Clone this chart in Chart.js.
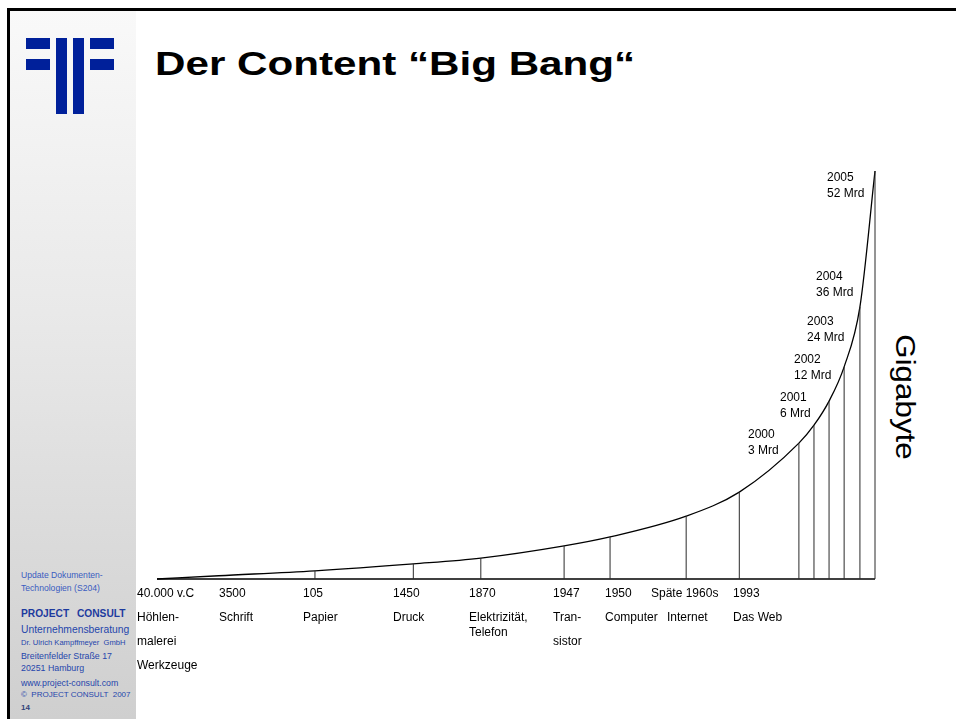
<!DOCTYPE html>
<html>
<head>
<meta charset="utf-8">
<script src="https://cdn.jsdelivr.net/npm/chart.js@4"></script>
<style>
  html, body { margin:0; padding:0; background:#fff; }
  body { width:956px; height:719px; position:relative; overflow:hidden; font-family:"Liberation Sans", Arial, sans-serif; }
  #frame { position:absolute; left:7px; top:8px; width:960px; height:720px; border-left:3px solid #000; border-top:3px solid #000; }
  #panel { position:absolute; left:10px; top:11px; width:126px; height:708px; background:linear-gradient(#f9f9f9, #e8e8e8 45%, #cfcfcf); }
  .logo { position:absolute; background:#00209a; }
  #chartWrap { position:absolute; left:0; top:0; width:956px; height:719px; }
  .t { position:absolute; white-space:pre; line-height:1; color:#000; }
  .p { position:absolute; white-space:pre; line-height:1; color:#2f4fb0; left:21px; }
</style>
</head>
<body>
<div id="frame"></div>
<div id="panel"></div>
<div class="logo" style="left:26px;top:38px;width:24px;height:11px"></div>
<div class="logo" style="left:26px;top:59px;width:24px;height:11px"></div>
<div class="logo" style="left:56px;top:38px;width:11px;height:76px"></div>
<div class="logo" style="left:73px;top:38px;width:11px;height:76px"></div>
<div class="logo" style="left:90px;top:38px;width:24px;height:11px"></div>
<div class="logo" style="left:90px;top:59px;width:24px;height:11px"></div>

<div class="t" id="title" style="left:155px;top:46px;font-size:34px;font-weight:bold;transform:scaleX(1.24);transform-origin:0 0">Der Content “Big Bang“</div>
<div class="t" id="unit" style="left:905px;top:397px;font-size:28px;transform:translate(-50%,-50%) rotate(90deg) scaleX(1.12)">Gigabyte</div>

<div class="p" style="top:571px;font-size:8.6px;color:#3a5cc0">Update Dokumenten-</div>
<div class="p" style="top:584px;font-size:8.6px;color:#3a5cc0">Technologien (S204)</div>
<div class="p" style="top:609px;font-size:10.2px;font-weight:bold;color:#1d3a9e;word-spacing:5px">PROJECT CONSULT</div>
<div class="p" style="top:625px;font-size:10.3px;color:#2546ac">Unternehmensberatung</div>
<div class="p" style="top:639px;font-size:7.6px;color:#2546ac">Dr. Ulrich Kampffmeyer  GmbH</div>
<div class="p" style="top:652px;font-size:8.8px;color:#2546ac">Breitenfelder Straße 17</div>
<div class="p" style="top:664px;font-size:8.8px;color:#2546ac">20251 Hamburg</div>
<div class="p" style="top:679px;font-size:8.8px;color:#2546ac">www.project-consult.com</div>
<div class="p" style="top:691px;font-size:8px;color:#2546ac">©  PROJECT CONSULT  2007</div>
<div class="p" style="top:704px;font-size:8px;font-weight:bold;color:#33427a">14</div>

<div id="chartWrap"><canvas id="c" width="956" height="719"></canvas></div>
<div id="labels"></div>

<script>
// ---- data ----
// timeline position (0–100 along the drawn axis) and relative data volume (0–100)
const milestoneNames = ['40.000 v.C', '3500', '105', '1450', '1870', '1947', '1950', 'Späte 1960s', '1993', '2000', '2001', '2002', '2003', '2004', '2005'];
const timelinePos    = [0, 8.6, 22.0, 35.7, 45.1, 56.7, 63.1, 73.7, 81.1, 89.4, 91.5, 93.6, 95.7, 97.9, 100];
const volume         = [0, 0.8, 2.0, 3.7, 5.1, 8.1, 10.3, 15.4, 21.3, 33.3, 37.7, 43.6, 52.0, 66.7, 100];
const hasStick       = [false, false, true, true, true, true, true, true, true, true, true, true, true, true, true];

const eraYears = ['40.000 v.C', '3500', '105', '1450', '1870', '1947', '1950', 'Späte 1960s', '1993'];
const eraTopics = [['Höhlen-', 'malerei', 'Werkzeuge'], ['Schrift'], ['Papier'], ['Druck'], ['Elektrizität,', 'Telefon'], ['Tran-', 'sistor'], ['Computer'], ['Internet'], ['Das Web']];
const recentYears = ['2000', '2001', '2002', '2003', '2004', '2005'];
const recentVolumes = ['3 Mrd', '6 Mrd', '12 Mrd', '24 Mrd', '36 Mrd', '52 Mrd'];

// ---- layout (label placement) ----
const eraLabelLeft = [137, 219, 303, 393, 469, 553, 605, 651, 733];
const topicLeftOverride = {7: 667};
const recentLabelLeft = [748, 780, 794, 807, 816, 827];
const recentLabelTop = [428, 391, 353, 315, 270, 171];

const curveData = timelinePos.map((x, i) => ({x: x, y: volume[i]}));
const stickData = [];
timelinePos.forEach((x, i) => {
  if (hasStick[i]) {
    stickData.push({x: x, y: 0}, {x: x, y: volume[i]}, {x: x, y: null});
  }
});
const baseData = [{x: timelinePos[0], y: 0}, {x: timelinePos[timelinePos.length - 1], y: 0}];

new Chart(document.getElementById('c'), {
  type: 'line',
  data: {
    datasets: [
      { data: stickData, borderColor: '#2a2a2a', borderWidth: 1, pointRadius: 0, spanGaps: false, tension: 0, clip: false },
      { data: curveData, borderColor: '#000', borderWidth: 1.3, pointRadius: 0, cubicInterpolationMode: 'monotone', clip: false },
      { data: baseData, borderColor: '#000', borderWidth: 1.6, pointRadius: 0, clip: false }
    ]
  },
  options: {
    responsive: false,
    animation: false,
    events: [],
    layout: { padding: { left: 157, right: 81, top: 171, bottom: 140 } },
    plugins: { legend: { display: false }, tooltip: { enabled: false } },
    scales: {
      x: { type: 'linear', min: 0, max: 100, display: false },
      y: { type: 'linear', min: 0, max: 100, display: false }
    }
  }
});

// ---- text labels ----
const L = document.getElementById('labels');
function addText(txt, left, top, size) {
  const d = document.createElement('div');
  d.className = 't';
  d.style.left = left + 'px';
  d.style.top = top + 'px';
  d.style.fontSize = size + 'px';
  d.textContent = txt;
  L.appendChild(d);
}
eraYears.forEach((y, i) => {
  addText(y, eraLabelLeft[i], 587, 12);
  const topics = eraTopics[i];
  const rowTops = (i === 4) ? [611, 626] : [611, 635, 659];
  topics.forEach((t, j) => {
    const left = (topicLeftOverride[i] !== undefined) ? topicLeftOverride[i] : eraLabelLeft[i];
    addText(t, left, rowTops[j], 12);
  });
});
recentYears.forEach((y, i) => {
  addText(y, recentLabelLeft[i], recentLabelTop[i], 12);
  addText(recentVolumes[i], recentLabelLeft[i], recentLabelTop[i] + 16, 12);
});
</script>
</body>
</html>
